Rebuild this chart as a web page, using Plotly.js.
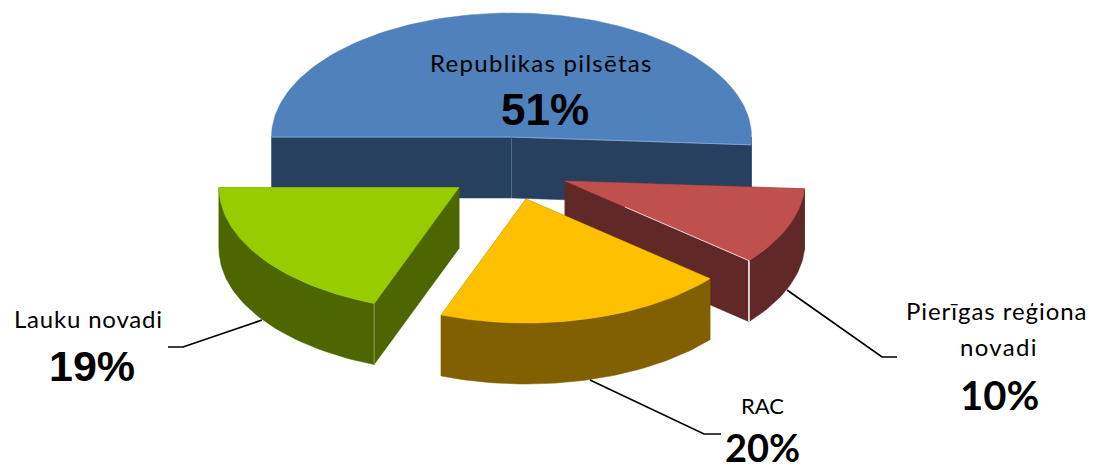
<!DOCTYPE html>
<html>
<head>
<meta charset="utf-8">
<script src="https://cdn.plot.ly/plotly-3.0.1.min.js"></script>
<style>html,body{margin:0;padding:0;background:#fff}#chart{width:1094px;height:470px}</style>
</head>
<body>
<div id="chart"></div>
<script>
// Data, in the order the slices run round the pie from its left edge through the front
var categories = ["Lauku novadi", "RAC", "Pierīgas reģiona novadi", "Republikas pilsētas"];
var shares = [19.25, 19.65, 10.1, 51];

// Style
var topColors = ["#99CC00", "#FFC000", "#C0504D", "#4F81BD"];
var wallColors = ["#4D6600", "#806000", "#612828", "#284060"];
var drawOrder = [3, 0, 2, 1];
var labelFont = "Lato, 'Open Sans', sans-serif";
var percentFontA = "'Liberation Sans', Arial, sans-serif";
var percentFontB = "Lato, 'Open Sans', sans-serif";

// Projection of the pie: apex of each exploded slice, radii, depth
var apexX = [459, 526, 565, 511.5];
var apexY = [187.5, 199, 181, 137];
var radiusX = 240, radiusY = 124, depth = 61;

function rad(d) { return d * Math.PI / 180; }
function arc(i, from, to, dy) {
  var xs = [], ys = [], n = Math.max(2, Math.ceil(Math.abs(from - to) / 1.5));
  for (var k = 0; k <= n; k++) {
    var t = rad(from + (to - from) * k / n);
    xs.push(apexX[i] + radiusX * Math.cos(t));
    ys.push(apexY[i] + radiusY * Math.sin(t) + dy);
  }
  return [xs, ys];
}
function poly(xs, ys, color) {
  return {type: "scatter", mode: "lines", x: xs.concat([xs[0]]), y: ys.concat([ys[0]]),
    fill: "toself", fillcolor: color, line: {color: color, width: 0.5},
    hoverinfo: "skip", showlegend: false};
}
function seam(xs, ys, color, w) {
  return {type: "scatter", mode: "lines", x: xs, y: ys, line: {color: color, width: w},
    hoverinfo: "skip", showlegend: false};
}

// Slice edges as angles derived from the shares
var startDeg = [], endDeg = [], cum = 0;
shares.forEach(function (v, i) {
  startDeg[i] = 180 - 3.6 * cum;
  cum += v;
  endDeg[i] = 180 - 3.6 * cum;
});

var traces = [];
drawOrder.forEach(function (i) {
  var a = startDeg[i], b = endDeg[i], wall = wallColors[i];
  [a, b].forEach(function (edge) {
    var p = arc(i, edge, edge, 0);
    var ex = p[0][0], ey = p[1][0];
    traces.push(poly([apexX[i], ex, ex, apexX[i]],
                     [apexY[i], ey, ey + depth, apexY[i] + depth], wall));
  });
  var lo = Math.max(b, 0), hi = Math.min(a, 180);
  if (hi > lo) {
    var top = arc(i, hi, lo, 0), bot = arc(i, lo, hi, depth);
    traces.push(poly(top[0].concat(bot[0]), top[1].concat(bot[1]), wall));
  }
  var rim = arc(i, a, b, 0);
  traces.push(poly([apexX[i]].concat(rim[0]), [apexY[i]].concat(rim[1]), topColors[i]));
});

// Thin highlights along the edges of the faces
function edgePt(i, deg) { var p = arc(i, deg, deg, 0); return [p[0][0], p[1][0]]; }
var b0 = edgePt(3, endDeg[3]), b1 = edgePt(3, startDeg[3]);
traces.push(seam([b0[0], apexX[3], b1[0]], [b0[1], apexY[3], b1[1]], "#7FA5D6", 1));
traces.push(seam([apexX[3], apexX[3]], [apexY[3], apexY[3] + depth], "#4A6A92", 1));
var g = edgePt(0, endDeg[0]);
traces.push(seam([g[0], g[0]], [g[1], g[1] + depth], "#8C9F55", 1));
var r = edgePt(2, startDeg[2]);
traces.push(seam([apexX[2] + 60, r[0]], [apexY[2] + (r[1] - apexY[2]) * 60 / (r[0] - apexX[2]), r[1]], "#EAD5D4", 1));
traces.push(seam([r[0], r[0]], [r[1], r[1] + depth], "#FFFFFF", 1.5));

// Leader lines from the slices to their labels
traces.push(seam([168, 183, 262], [347, 347, 320], "#000000", 1.7));
traces.push(seam([590, 704, 721], [380, 434, 434], "#000000", 1.7));
traces.push(seam([787, 882, 897], [290, 357, 357], "#000000", 1.7));

function note(text, x, y, size, family, bold, spacing) {
  var body = bold ? "<b>" + text + "</b>" : text;
  if (spacing) body = '<span style="letter-spacing:' + spacing + 'px">' + body + "</span>";
  return {text: body, x: x, y: y, xref: "x", yref: "y",
    xanchor: "center", yanchor: "middle", showarrow: false,
    font: {family: family, size: size, color: "#000000"}};
}
function pct(i) { return Math.round(shares[i]) + "%"; }
var annotations = [
  note("Republikas pilsētas", 541.5, 62, 24, labelFont, false, 1.3),
  note(pct(3), 545, 109, 44, percentFontA, true),
  note("Lauku novadi", 88.5, 318, 24, labelFont, false, 0.8),
  note(pct(0), 92, 366, 43, percentFontA, true),
  note("Pierīgas reģiona", 997, 310, 24, labelFont, false, 0.95),
  note("novadi", 999, 346, 24, labelFont, false, 1.3),
  note(pct(2), 999, 395, 40, percentFontB, true),
  note("RAC", 762, 405, 22, labelFont, false),
  note(pct(1), 762, 447, 38, percentFontB, true)
];

Plotly.newPlot("chart", traces, {
  width: 1094, height: 470,
  margin: {l: 0, r: 0, t: 0, b: 0},
  paper_bgcolor: "#FFFFFF", plot_bgcolor: "#FFFFFF",
  showlegend: false,
  xaxis: {range: [0, 1094], visible: false, fixedrange: true},
  yaxis: {range: [470, 0], visible: false, fixedrange: true},
  annotations: annotations
}, {displayModeBar: false, staticPlot: true});
</script>
</body>
</html>
